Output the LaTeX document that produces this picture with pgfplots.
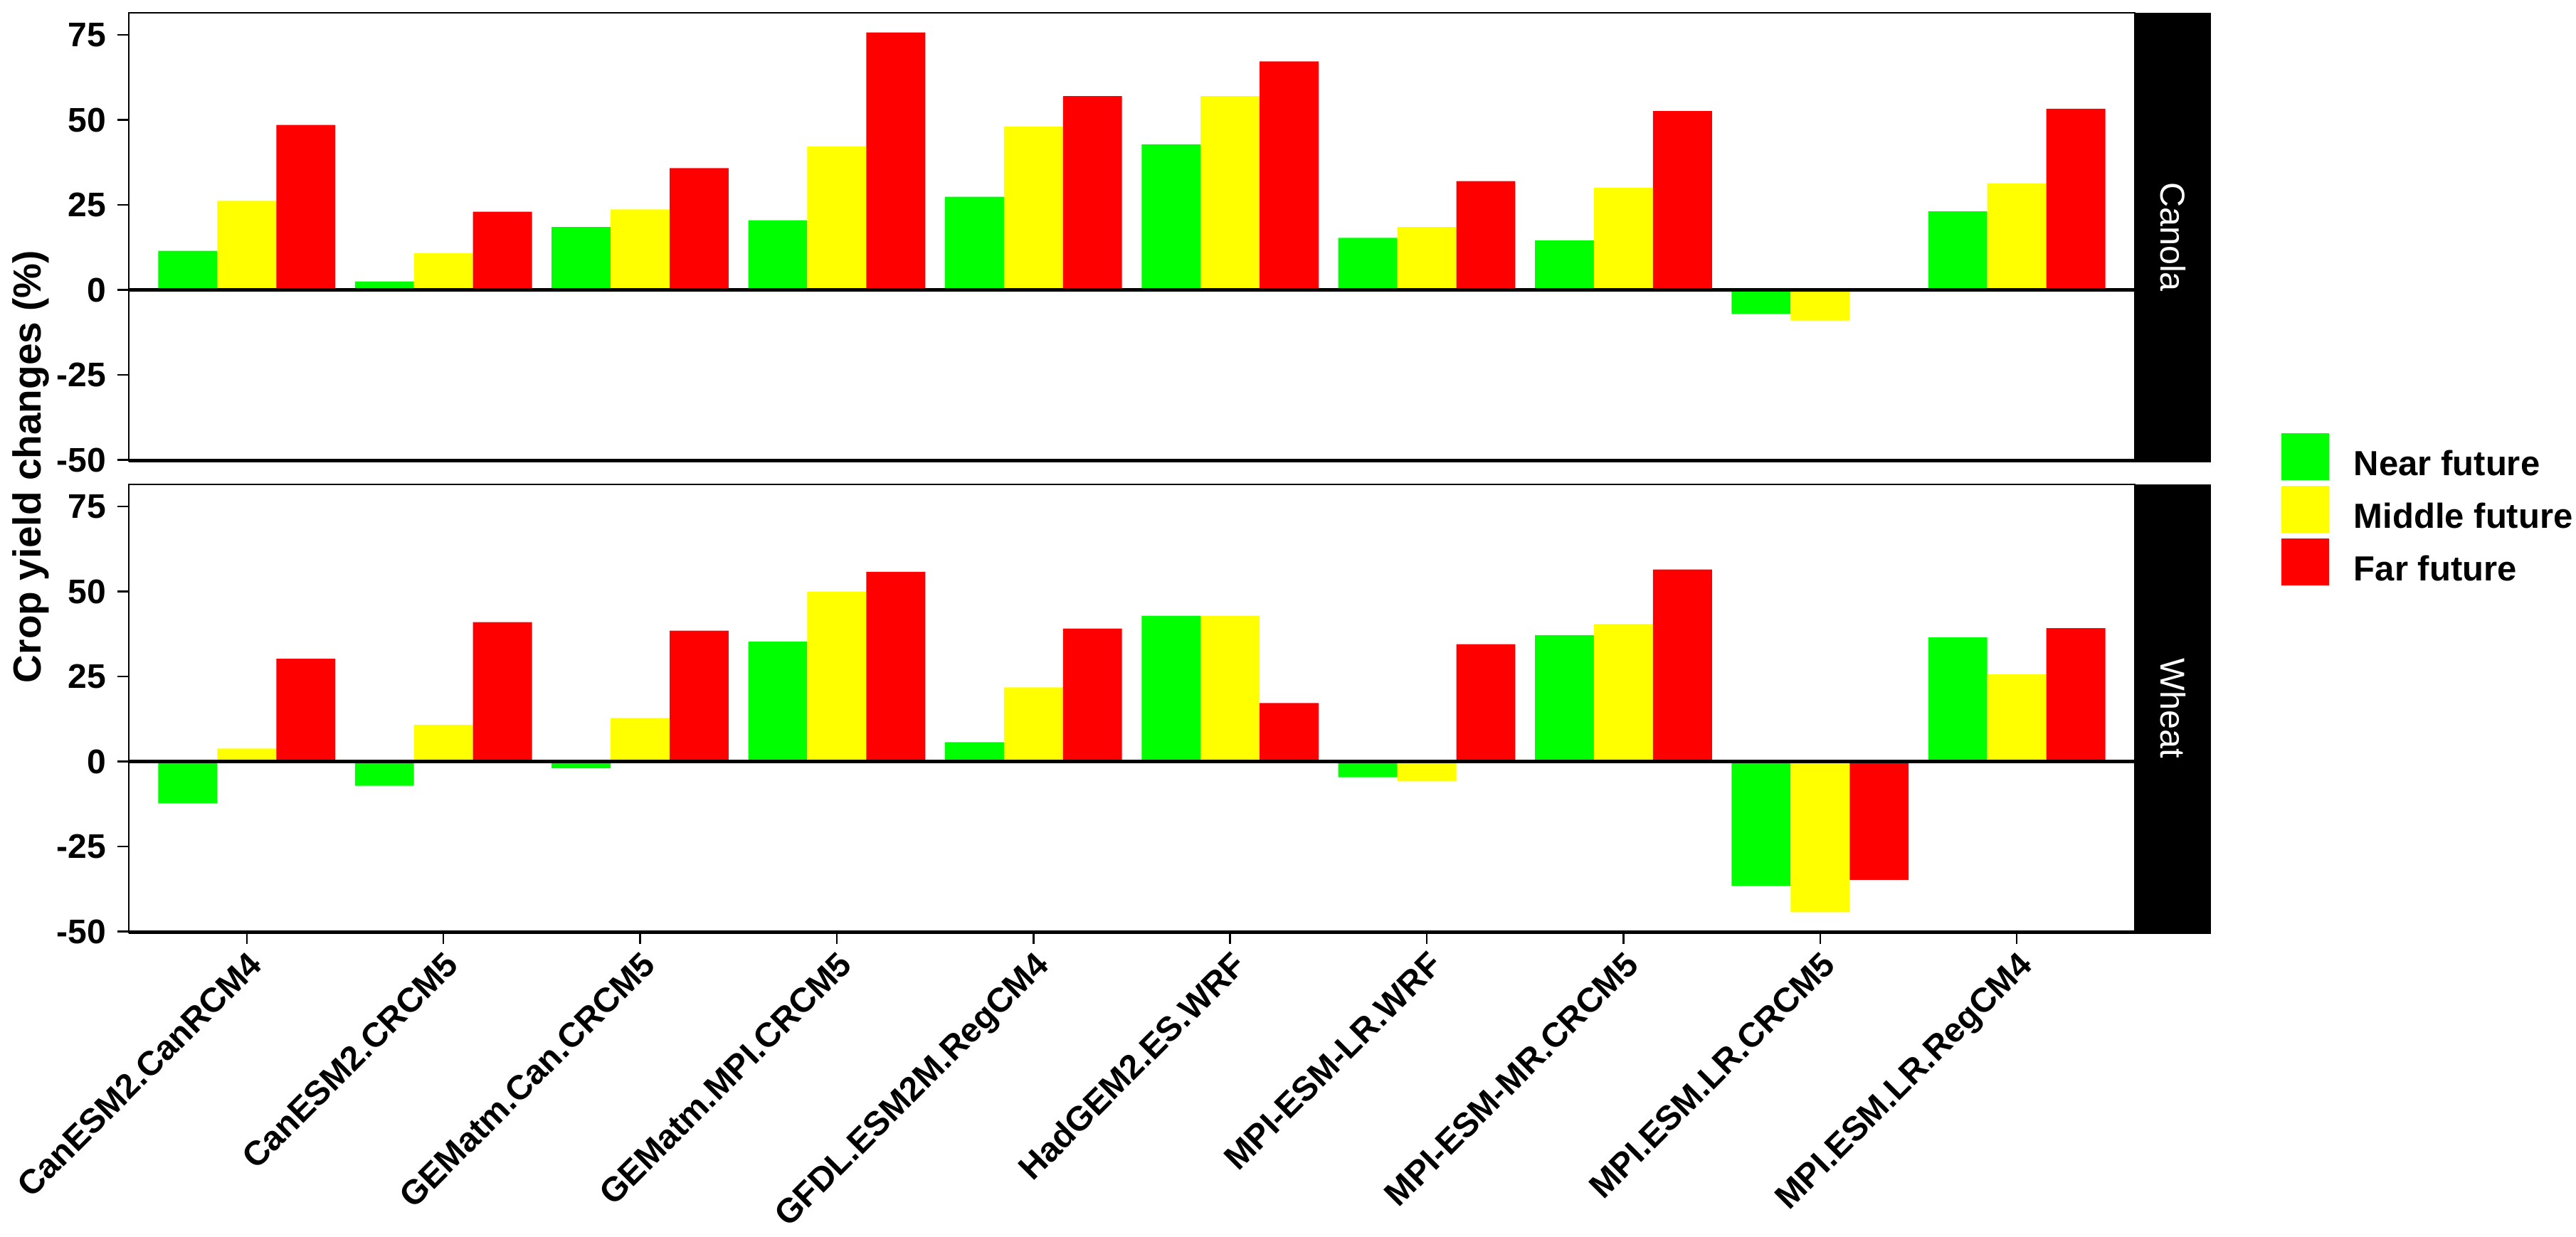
\documentclass[border=0pt]{standalone}
\usepackage{fontspec}
\setmainfont{Liberation Sans}
\usepackage{pgfplots}
\usepackage{pgfplotstable}
\pgfplotsset{compat=1.18}

\definecolor{nearf}{RGB}{0,255,0}
\definecolor{midf}{RGB}{255,255,0}
\definecolor{farf}{RGB}{255,0,0}

\newcommand\tickfont{\bfseries\fontsize{9.6}{11}\selectfont}
\newcommand\legfont{\bfseries\fontsize{9.8}{11}\selectfont}
\newcommand\labfont{\bfseries\fontsize{11}{13}\selectfont}
\newcommand\stripfont{\fontsize{9.7}{11}\selectfont}

% crop yield changes (%), one row per climate model
\pgfplotstableread{
idx near middle far
1   11.5  26.2  48.5
2    2.5  10.8  23.0
3   18.5  23.7  35.8
4   20.5  42.2  75.7
5   27.4  48.0  57.0
6   42.8  57.0  67.2
7   15.3  18.5  32.0
8   14.6  30.0  52.6
9   -7.1  -9.0  nan
10  23.1  31.3  53.3
}\canola

\pgfplotstableread{
idx near middle far
1  -12.3   3.8  30.2
2   -7.1  10.8  41.0
3   -2.0  12.8  38.5
4   35.3  50.0  55.8
5    5.7  21.8  39.1
6   42.9  42.9  17.2
7   -4.6  -5.8  34.5
8   37.2  40.4  56.5
9  -36.6 -44.3 -34.8
10  36.5  25.6  39.2
}\wheat

\pgfplotsset{
  panel/.style={
    scale only axis, width=563.8pt, height=126pt,
    xmin=0.4, xmax=10.6, ymin=-50.3, ymax=81.5,
    ytick={-50,-25,0,25,50,75},
    yticklabels={-50,-25,0,25,50,75},
    ytick pos=left, xtick pos=bottom,
    tick align=outside, major tick length=3.2pt,
    tick style={black, line width=0.5pt},
    axis line style={line width=0.5pt},
    yticklabel style={font=\tickfont, inner sep=0pt, xshift=-3pt},
    clip=false,
  },
  bars/.style={ybar, bar width=0.3, bar shift=0pt, draw=none, fill=#1, forget plot},
}

\newcommand\strip[1]{%
  \fill[black] (rel axis cs:1,0) rectangle ([xshift=21.4pt]rel axis cs:1,1);
  \node[white, rotate=-90, font=\stripfont] at ([xshift=10.7pt]rel axis cs:1,0.5) {#1};
  \draw[line width=1pt] (rel axis cs:0,0) -- ([xshift=21.4pt]rel axis cs:1,0);
}

\begin{document}
\begin{tikzpicture}
\path[use as bounding box] (-36.2pt,-85.6pt) rectangle (687.8pt,262.2pt);

% Canola
\begin{axis}[panel, at={(0pt,132.6pt)}, anchor=south west, xtick=\empty,
  legend cell align=left,
  legend style={at={(1.0727,0.0636)}, anchor=north west, draw=none, fill=none,
    inner sep=0pt, row sep=1.3pt, font=\legfont, nodes={inner sep=0pt},
    /tikz/every odd column/.append style={column sep=7pt}},
]
\addplot[bars=nearf] table[x expr=\thisrow{idx}-0.3, y=near] {\canola};
\addplot[bars=midf]  table[x=idx, y=middle] {\canola};
\addplot[bars=farf]  table[x expr=\thisrow{idx}+0.3, y=far] {\canola};
\addplot[black, line width=1.1pt, forget plot] coordinates {(0.4,0) (10.6,0)};
\addlegendimage{legend image code/.code={\fill[nearf] (0pt,-3.8pt) rectangle (13pt,9pt);}}
\addlegendentry{Near future}
\addlegendimage{legend image code/.code={\fill[midf] (0pt,-3.8pt) rectangle (13pt,9pt);}}
\addlegendentry{Middle future}
\addlegendimage{legend image code/.code={\fill[farf] (0pt,-3.8pt) rectangle (13pt,9pt);}}
\addlegendentry{Far future}
\strip{Canola}
\end{axis}

% Wheat
\begin{axis}[panel, at={(0pt,0pt)}, anchor=south west,
  xtick={1,...,10},
  xticklabels={CanESM2.CanRCM4, CanESM2.CRCM5, GEMatm.Can.CRCM5, GEMatm.MPI.CRCM5,
    GFDL.ESM2M.RegCM4, HadGEM2.ES.WRF, MPI-ESM-LR.WRF, MPI-ESM-MR.CRCM5,
    MPI.ESM.LR.CRCM5, MPI.ESM.LR.RegCM4},
  xticklabel style={font=\tickfont, rotate=45, anchor=north east, inner sep=1pt},
]
\addplot[bars=nearf] table[x expr=\thisrow{idx}-0.3, y=near] {\wheat};
\addplot[bars=midf]  table[x=idx, y=middle] {\wheat};
\addplot[bars=farf]  table[x expr=\thisrow{idx}+0.3, y=far] {\wheat};
\addplot[black, line width=1.1pt, forget plot] coordinates {(0.4,0) (10.6,0)};
\strip{Wheat}
\end{axis}

\node[rotate=90, font=\labfont] at (-27.6pt,131pt) {Crop yield changes (\%)};
\end{tikzpicture}
\end{document}
